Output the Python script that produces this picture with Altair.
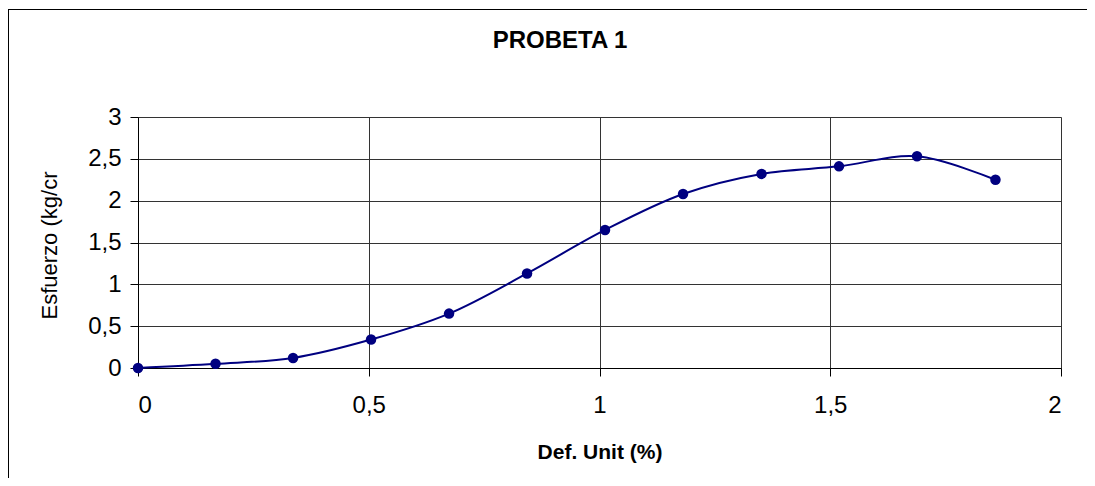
import altair as alt
import pandas as pd

# Data
def_unit = [0.0, 0.168, 0.336, 0.505, 0.674, 0.843, 1.012, 1.181, 1.351, 1.519, 1.688, 1.858]
esfuerzo = [0.0, 0.05, 0.12, 0.34, 0.65, 1.13, 1.65, 2.08, 2.32, 2.41, 2.53, 2.25]
x_ticks = [0, 0.5, 1, 1.5, 2]
y_ticks = [0, 0.5, 1, 1.5, 2, 2.5, 3]
title_text = ["PROBETA 1"]

df = pd.DataFrame({"x": def_unit, "y": esfuerzo})
NAVY = "#000080"
FONT = "Liberation Sans"
W, H = 923, 251

label_expr = "replace(toString(datum.value), '.', ',')"

x_enc = alt.X(
    "x:Q",
    scale=alt.Scale(domain=[0, 2], nice=False, zero=False),
    axis=alt.Axis(
        values=x_ticks, title="Def. Unit (%)", labelExpr=label_expr,
        grid=True, gridColor="#333333", gridWidth=1,
        domainColor="#000000", domainWidth=1,
        tickColor="#000000", tickSize=8, tickWidth=1,
        labelFont=FONT, labelFontSize=24, labelColor="#000000", labelPadding=17,
        titleFont=FONT, titleFontSize=21, titleFontWeight="bold", titleColor="#000000",
        titleBaseline="middle", titleY=84,
    ),
)
y_enc = alt.Y(
    "y:Q",
    scale=alt.Scale(domain=[0, 3], nice=False, zero=False),
    axis=alt.Axis(
        values=y_ticks, title="Esfuerzo (kg/cr", labelExpr=label_expr,
        grid=True, gridColor="#333333", gridWidth=1,
        domainColor="#000000", domainWidth=1,
        tickColor="#000000", tickSize=8, tickWidth=1,
        labelFont=FONT, labelFontSize=24, labelColor="#000000", labelPadding=9,
        titleFont=FONT, titleFontSize=22, titleFontWeight="normal", titleColor="#000000",
        titleBaseline="middle", titleAlign="center", titleAngle=-90,
        titleX=-89, titleY=128,
    ),
)

line = alt.Chart(df).mark_line(
    color=NAVY, strokeWidth=2, interpolate="catmull-rom"
).encode(x=x_enc, y=y_enc)

points = alt.Chart(df).mark_point(
    filled=True, color=NAVY, size=110, opacity=1
).encode(x="x:Q", y="y:Q")

frame = pd.DataFrame({"k": [1]})
border_top = alt.Chart(frame).mark_rule(color="#000000", strokeWidth=1).encode(
    x=alt.value(-130), x2=alt.value(W + 400), y=alt.value(-107.5),
)
border_left = alt.Chart(frame).mark_rule(color="#000000", strokeWidth=1).encode(
    x=alt.value(-129.5), y=alt.value(-108), y2=alt.value(H + 400),
)

title = alt.Chart(pd.DataFrame({"t": title_text})).mark_text(
    font=FONT, fontSize=24, fontWeight="bold", color="#000000",
    align="center", baseline="middle"
).encode(text="t:N", x=alt.value(422), y=alt.value(-76))

chart = alt.layer(border_top, border_left, line, points, title).properties(
    width=W, height=H,
    autosize=alt.AutoSizeParams(type="none"),
    padding={"left": 130, "top": 109, "right": 26, "bottom": 110},
).configure_view(
    stroke="#808080", strokeWidth=2
).configure(background="white")

chart.save("out.html", embed_options={"renderer": "svg", "actions": False})
